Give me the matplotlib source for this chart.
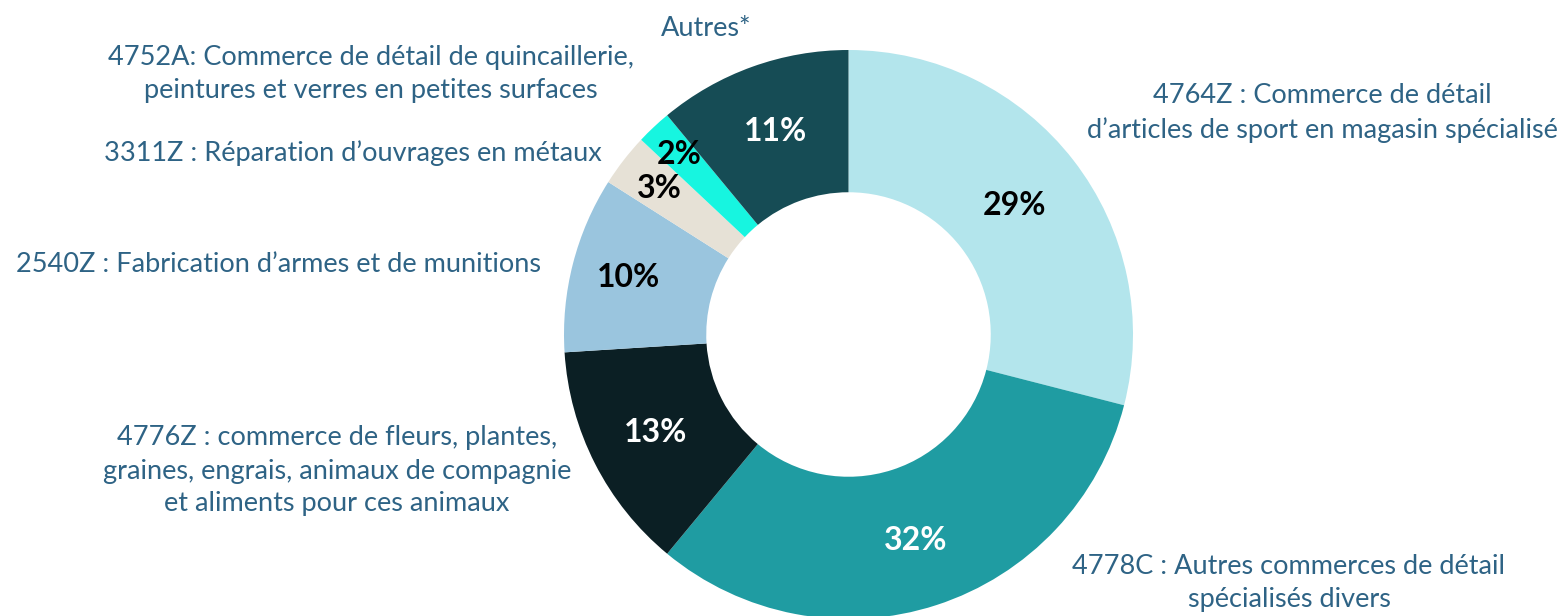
import matplotlib.pyplot as plt
import numpy as np

# repartition des etablissements par code NAF (donut)
labels = [
    "4764Z : Commerce de détail\nd’articles de sport en magasin spécialisé",
    "4778C : Autres commerces de détail\nspécialisés divers",
    "4776Z : commerce de fleurs, plantes,\ngraines, engrais, animaux de compagnie\net aliments pour ces animaux",
    "2540Z : Fabrication d’armes et de munitions",
    "3311Z : Réparation d’ouvrages en métaux",
    "4752A: Commerce de détail de quincaillerie,\npeintures et verres en petites surfaces",
    "Autres*",
]
valeurs = [29, 32, 13, 10, 3, 2, 11]
couleurs = ["#B3E5EC", "#1F9CA2", "#0B1F24", "#9AC5DE", "#E6E1D6", "#17F5E0", "#164C55"]
couleurs_pct = ["black", "white", "white", "black", "black", "black", "white"]

W, H = 1566, 616
fig = plt.figure(figsize=(W / 100, H / 100), dpi=100)
ax = fig.add_axes([0, 0, 1, 1])

cx, cy, R = 848.5, H - 334.5, 284.5
wedges, _ = ax.pie(valeurs, colors=couleurs, startangle=90, counterclock=False,
                   radius=R, center=(cx, cy),
                   wedgeprops=dict(width=R * 0.5, linewidth=0))
ax.set_xlim(0, W)
ax.set_ylim(0, H)
ax.set_aspect("equal")
ax.axis("off")

# distance des pourcentages (en fraction du rayon)
dist = [0.74, 0.76, 0.76, 0.80, 0.84, 0.87, 0.76]
for w, v, c, d in zip(wedges, valeurs, couleurs_pct, dist):
    a = np.deg2rad((w.theta1 + w.theta2) / 2)
    ax.text(cx + d * R * np.cos(a), cy + d * R * np.sin(a), f"{v}%",
            ha="center", va="center", fontsize=23, fontweight="bold",
            color=c, family="Lato")

# positions des libelles (pixels, centre du bloc)
pos_lib = [(1322, 113), (1289, 583), (337, 471), (278, 265), (353, 153), (371, 74), (706, 28)]
for lib, (x, y) in zip(labels, pos_lib):
    ax.text(x, H - y, lib, ha="center", va="center", fontsize=19.5,
            color="#2E6385", family="Lato", linespacing=1.4)

fig.savefig("out.png", dpi=100)
